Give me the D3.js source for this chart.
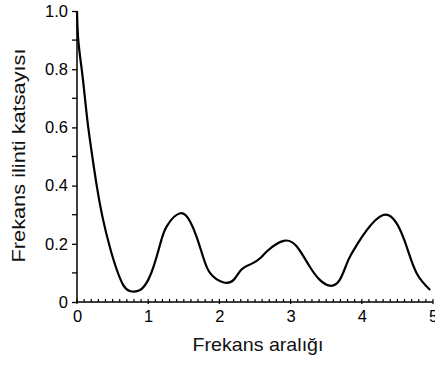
<!DOCTYPE html>
<html><head><meta charset="utf-8">
<script src="https://cdn.jsdelivr.net/npm/d3@7"></script>
<style>
html,body{margin:0;padding:0;background:#fff;}
svg{display:block;font-family:"Liberation Sans",Arial,Helvetica,sans-serif;}
</style></head>
<body><svg id="chart" width="435" height="367"></svg>
<script>
const freqX = [0, 0.018, 0.066, 0.112, 0.158, 0.215, 0.277, 0.36, 0.46, 0.56, 0.65, 0.74, 0.885, 1.0, 1.08, 1.17, 1.26, 1.45, 1.59, 1.68, 1.77, 1.87, 2.05, 2.2, 2.31, 2.45, 2.58, 2.68, 2.90, 3.09, 3.27, 3.41, 3.55, 3.69, 3.81, 3.93, 4.07, 4.30, 4.49, 4.63, 4.77, 4.96];
const coefY = [1.0, 0.9, 0.8, 0.7, 0.6, 0.5, 0.4, 0.29, 0.19, 0.11, 0.058, 0.038, 0.041, 0.076, 0.125, 0.2, 0.26, 0.305, 0.276, 0.224, 0.156, 0.099, 0.068, 0.076, 0.112, 0.131, 0.152, 0.177, 0.21, 0.19, 0.121, 0.076, 0.056, 0.076, 0.144, 0.196, 0.247, 0.299, 0.27, 0.19, 0.099, 0.041];
const xTicks = [0, 1, 2, 3, 4, 5];
const yTicks = [0, 0.2, 0.4, 0.6, 0.8, 1.0];
const yTickLabels = ["0", "0.2", "0.4", "0.6", "0.8", "1.0"];
const xLabel = "Frekans aralığı";
const yLabel = "Frekans ilinti katsayısı";

const svg = d3.select("#chart");
const x = d3.scaleLinear().domain([0, 5]).range([77, 433]);
const y = d3.scaleLinear().domain([0, 1]).range([302, 11]);

// y axis
const yAxis = d3.axisLeft(y).tickValues(yTicks).tickFormat((d,i)=>yTickLabels[i]).tickSize(5).tickPadding(4);
const gy = svg.append("g").attr("transform", `translate(${x(0)},0)`).call(yAxis);
gy.select(".domain").attr("stroke-width", 1.5).attr("d", `M0,${y(0)}V${y(1)}`);
gy.selectAll("text").attr("font-size", 16.5).attr("fill", "#000").attr("font-family", "Liberation Sans, Arial, sans-serif");
gy.selectAll(".tick line").attr("stroke-width", 1.3);
const yMinor = d3.range(0.1, 1.0, 0.2);
svg.append("g").selectAll("line").data(yMinor).join("line")
  .attr("x1", x(0) - 5).attr("x2", x(0)).attr("y1", d => y(d)).attr("y2", d => y(d))
  .attr("stroke", "#000").attr("stroke-width", 1.3);

// x axis
const xAxis = d3.axisBottom(x).tickValues(xTicks).tickFormat(d3.format("d")).tickSize(0).tickPadding(8);
const gx = svg.append("g").attr("transform", `translate(0,${y(0)})`).call(xAxis);
gx.select(".domain").attr("stroke-width", 1.5).attr("d", `M${x(0)},0H${x(5)}`);
gx.selectAll("text").attr("font-size", 16.5).attr("fill", "#000").attr("font-family", "Liberation Sans, Arial, sans-serif");
const xMinor = d3.range(0, 50.5, 1).map(i => i / 10);
svg.append("g").selectAll("line").data(xMinor).join("line")
  .attr("x1", d => x(d)).attr("x2", d => x(d))
  .attr("y1", y(0) - 3).attr("y2", d => Math.abs(d - Math.round(d)) < 1e-6 ? y(0) + 2 : y(0))
  .attr("stroke", "#000").attr("stroke-width", 1.2);

// line
const pts = freqX.map((d, i) => [d, coefY[i]]);
const line = d3.line().x(d => x(d[0])).y(d => y(d[1])).curve(d3.curveNatural);
svg.append("path").datum(pts).attr("d", line)
  .attr("fill", "none").attr("stroke", "#000").attr("stroke-width", 2.2).attr("stroke-linejoin", "round");

// labels
svg.append("text").attr("x", 258).attr("y", 351).attr("text-anchor", "middle")
  .attr("font-size", 18.5).attr("fill", "#111")
  .attr("textLength", 131).attr("lengthAdjust", "spacingAndGlyphs").text(xLabel);
svg.append("text").attr("transform", "translate(25,155.5) rotate(-90)").attr("text-anchor", "middle")
  .attr("font-size", 18.5).attr("fill", "#111")
  .attr("textLength", 214).attr("lengthAdjust", "spacingAndGlyphs").text(yLabel);
</script></body></html>
